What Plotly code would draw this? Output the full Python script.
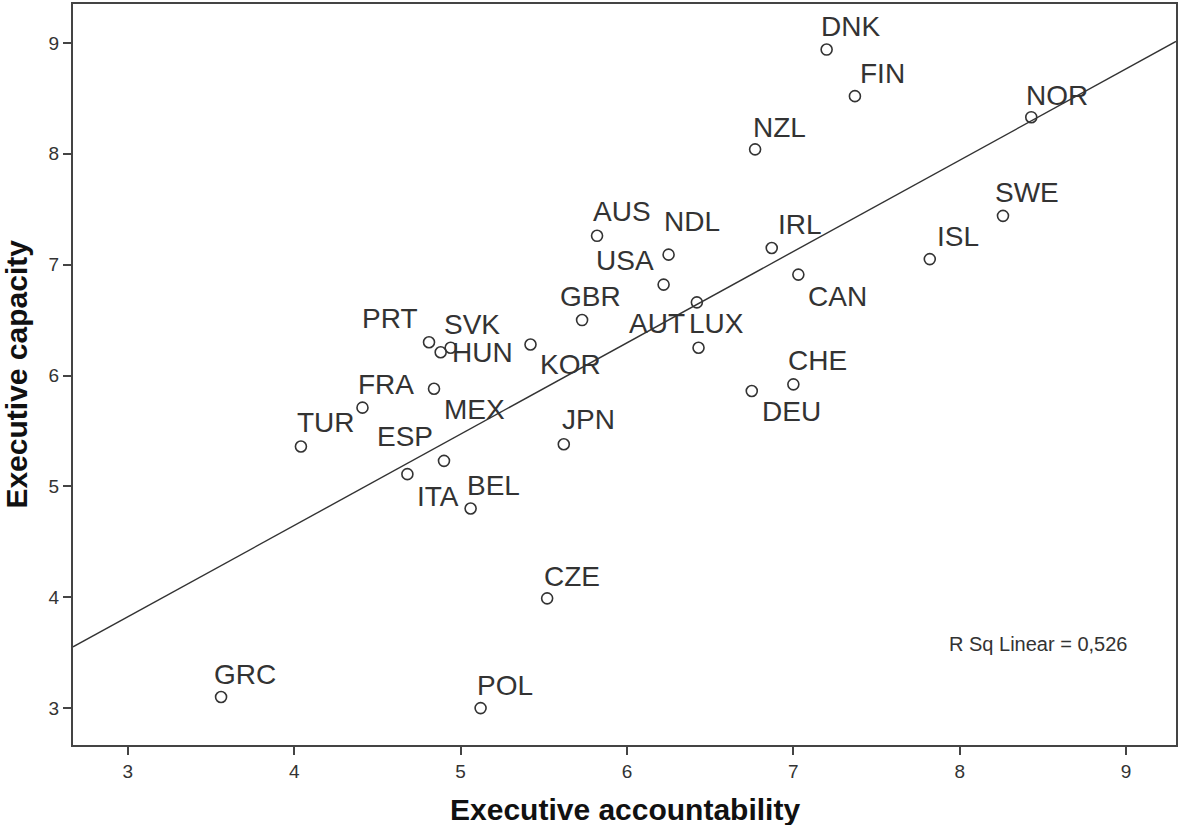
import numpy as np
import plotly.graph_objects as go

# ---- data ----
countries = ["DNK", "FIN", "NOR", "NZL", "SWE", "AUS", "NDL", "IRL", "ISL", "USA",
             "CAN", "GBR", "AUT", "LUX", "PRT", "HUN", "SVK", "KOR", "MEX", "FRA",
             "TUR", "ESP", "ITA", "JPN", "BEL", "CHE", "DEU", "CZE", "GRC", "POL"]
accountability = [7.20, 7.37, 8.43, 6.77, 8.26, 5.82, 6.25, 6.87, 7.82, 6.22,
                  7.03, 5.73, 6.42, 6.43, 4.81, 4.88, 4.94, 5.42, 4.84, 4.41,
                  4.04, 4.90, 4.68, 5.62, 5.06, 7.00, 6.75, 5.52, 3.56, 5.12]
capacity = [8.94, 8.52, 8.33, 8.04, 7.44, 7.26, 7.09, 7.15, 7.05, 6.82,
            6.91, 6.50, 6.66, 6.25, 6.30, 6.21, 6.25, 6.28, 5.88, 5.71,
            5.36, 5.23, 5.11, 5.38, 4.80, 5.92, 5.86, 3.99, 3.10, 3.00]
x_ticks = [3, 4, 5, 6, 7, 8, 9]
y_ticks = [3, 4, 5, 6, 7, 8, 9]
r2_text = "R Sq Linear = 0,526"
x_title = "Executive accountability"
y_title = "Executive capacity"

# ---- label placement (style): anchor, pixel shift of edge, pixel shift of centre ----
label_style = {
    "DNK": ("left", -8, -23), "FIN": ("left", 3, -23), "NOR": ("left", -7, -22),
    "NZL": ("left", -4, -22), "SWE": ("left", -10, -23), "AUS": ("left", -6, -24),
    "NDL": ("left", -7, -33), "IRL": ("left", 4, -24), "ISL": ("left", 5, -23),
    "USA": ("right", -8, -24), "CAN": ("left", 8, 22), "GBR": ("left", -24, -24),
    "AUT": ("right", -10, 21), "LUX": ("left", -12, -24), "PRT": ("right", -9, -24),
    "HUN": ("left", 9, 0), "SVK": ("left", -9, -23), "KOR": ("left", 7, 20),
    "MEX": ("left", 8, 21), "FRA": ("left", -6, -23), "TUR": ("left", -6, -24),
    "ESP": ("right", -9, -24), "ITA": ("left", 8, 22), "JPN": ("left", -4, -25),
    "BEL": ("left", -6, -23), "CHE": ("left", -7, -24), "DEU": ("left", 8, 20),
    "CZE": ("left", -5, -22), "GRC": ("left", -9, -23), "POL": ("left", -6, -23),
}

ink = "#333333"
font_family = "Arial, Liberation Sans, sans-serif"
x_range = [2.67, 9.30]
y_range = [2.667, 9.351]

fig = go.Figure()

# fit line (ordinary least squares from the data)
slope, intercept = np.polyfit(accountability, capacity, 1)
fx = np.array(x_range)
fig.add_trace(go.Scatter(x=fx, y=slope * fx + intercept, mode="lines",
                         line=dict(color=ink, width=1.4), hoverinfo="skip",
                         showlegend=False, cliponaxis=True))

fig.add_trace(go.Scatter(x=accountability, y=capacity, mode="markers",
                         marker=dict(symbol="circle-open", size=11,
                                     line=dict(color=ink, width=1.6), color=ink),
                         text=countries, showlegend=False))

annotations = []
for c, xv, yv in zip(countries, accountability, capacity):
    anchor, dx, dy = label_style[c]
    annotations.append(dict(x=xv, y=yv, xref="x", yref="y", text=c, showarrow=False,
                            xanchor=anchor, yanchor="middle", xshift=dx, yshift=-dy,
                            font=dict(family=font_family, size=28, color=ink)))

annotations.append(dict(x=0.792, y=0.1365, xref="paper", yref="paper", text=r2_text,
                        showarrow=False, xanchor="left", yanchor="middle",
                        font=dict(family=font_family, size=20, color=ink)))
annotations.append(dict(x=0.5, y=-0.0876, xref="paper", yref="paper", text=x_title,
                        showarrow=False, xanchor="center", yanchor="middle",
                        font=dict(family=font_family, size=30, color="#111111", weight="bold")))
annotations.append(dict(x=-0.0516, y=0.5, xref="paper", yref="paper", text=y_title,
                        showarrow=False, xanchor="center", yanchor="middle", textangle=-90,
                        font=dict(family=font_family, size=30, color="#111111", weight="bold")))

axis_common = dict(showgrid=False, zeroline=False, showline=True, linecolor="#444444",
                   linewidth=2, mirror=True, ticks="outside", ticklen=8, tickwidth=2,
                   tickcolor="#444444",
                   tickfont=dict(family=font_family, size=19, color=ink))

fig.update_xaxes(range=x_range, tickvals=x_ticks, **axis_common)
fig.update_yaxes(range=y_range, tickvals=y_ticks, **axis_common)

fig.update_layout(width=1180, height=825, margin=dict(l=73, r=2, t=3, b=80),
                  plot_bgcolor="white", paper_bgcolor="white",
                  annotations=annotations, showlegend=False)

fig.write_html("out.html", config={"displayModeBar": False},
               post_script="document.body.style.margin='0';document.body.style.overflow='hidden';")
